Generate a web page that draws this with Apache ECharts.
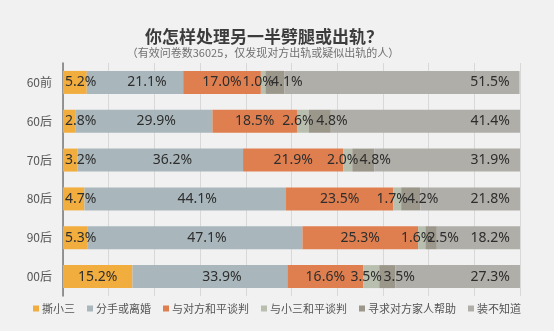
<!DOCTYPE html>
<html><head><meta charset="utf-8">
<script src="https://cdn.jsdelivr.net/npm/echarts@6/dist/echarts.min.js"></script>
<style>html,body{margin:0;padding:0;background:#f1f1f1;}#c{width:554px;height:331px;}</style>
</head><body><div id="c"></div>
<script>
const categories = ['60前','60后','70后','80后','90后','00后'];
const seriesNames = ['撕小三','分手或离婚','与对方和平谈判','与小三和平谈判','寻求对方家人帮助','装不知道'];
const s1 = [5.2, 2.8, 3.2, 4.7, 5.3, 15.2];
const s2 = [21.1, 29.9, 36.2, 44.1, 47.1, 33.9];
const s3 = [17.0, 18.5, 21.9, 23.5, 25.3, 16.6];
const s4 = [1.0, 2.6, 2.0, 1.7, 1.6, 3.5];
const s5 = [4.1, 4.8, 4.8, 4.2, 2.5, 3.5];
const s6 = [51.5, 41.4, 31.9, 21.8, 18.2, 27.3];
const allData = [s1,s2,s3,s4,s5,s6];
const colors = ['#f2ad3f','#a9b7bc','#df7f4f','#b9bfae','#9c978b','#b0aea8'];
const labelCfg = [
  {position:'insideLeft', distance:2, offset:[0,0]},
  {position:'inside', offset:[12,0]},
  {position:'inside', offset:[0,0]},
  {position:'inside', offset:[-5,0]},
  {position:'inside', offset:[12,0]},
  {position:'insideRight', distance:10, offset:[0,0]}
];
const chart = echarts.init(document.getElementById('c'), null, {renderer:'canvas'});
chart.setOption({
  backgroundColor:'#f1f1f1',
  animation:false,
  title:[
    {text:'你怎样处理另一半劈腿或出轨？', left:259, textAlign:'center', top:23,
     textStyle:{fontSize:17, fontWeight:'bold', color:'#3c3c3c', fontFamily:'Noto Sans CJK SC'}},
    {text:'（有效问卷数36025，仅发现对方出轨或疑似出轨的人）', left:258, textAlign:'center', top:42,
     textStyle:{fontSize:11, fontWeight:'normal', color:'#707070', fontFamily:'Noto Sans CJK SC'}}
  ],
  legend:{
    bottom:12, left:'center', itemWidth:6, itemHeight:6, itemGap:12, icon:'rect',
    textStyle:{fontSize:11, color:'#555', fontFamily:'Noto Sans CJK SC', padding:[0,0,0,-2]},
    data:seriesNames
  },
  grid:{left:63, right:34, top:63, bottom:35, containLabel:false},
  xAxis:{type:'value', min:0, max:100, interval:10,
    axisLabel:{show:false}, axisLine:{show:false}, axisTick:{show:false},
    splitLine:{show:true, lineStyle:{color:'#d8d8d8', width:1}}},
  yAxis:{type:'category', data:categories, inverse:true,
    axisLine:{show:true, lineStyle:{color:'#777', width:1.5}},
    axisTick:{show:false},
    axisLabel:{color:'#555', fontSize:12, margin:11, fontFamily:'Noto Sans CJK SC'}},
  series: seriesNames.map((n,i)=>({
    name:n, type:'bar', stack:'a', barWidth:23,
    data: allData[i].map(v => (i === 0 && v > 10) ? {value:v, label:{position:'inside'}} : v),
    itemStyle:{color:colors[i]},
    label:Object.assign({show:true, color:'#2e2e2e', fontSize:14, fontFamily:'Noto Sans',
      formatter:p=>p.value.toFixed(1)+'%'}, labelCfg[i])
  }))
});
</script></body></html>
